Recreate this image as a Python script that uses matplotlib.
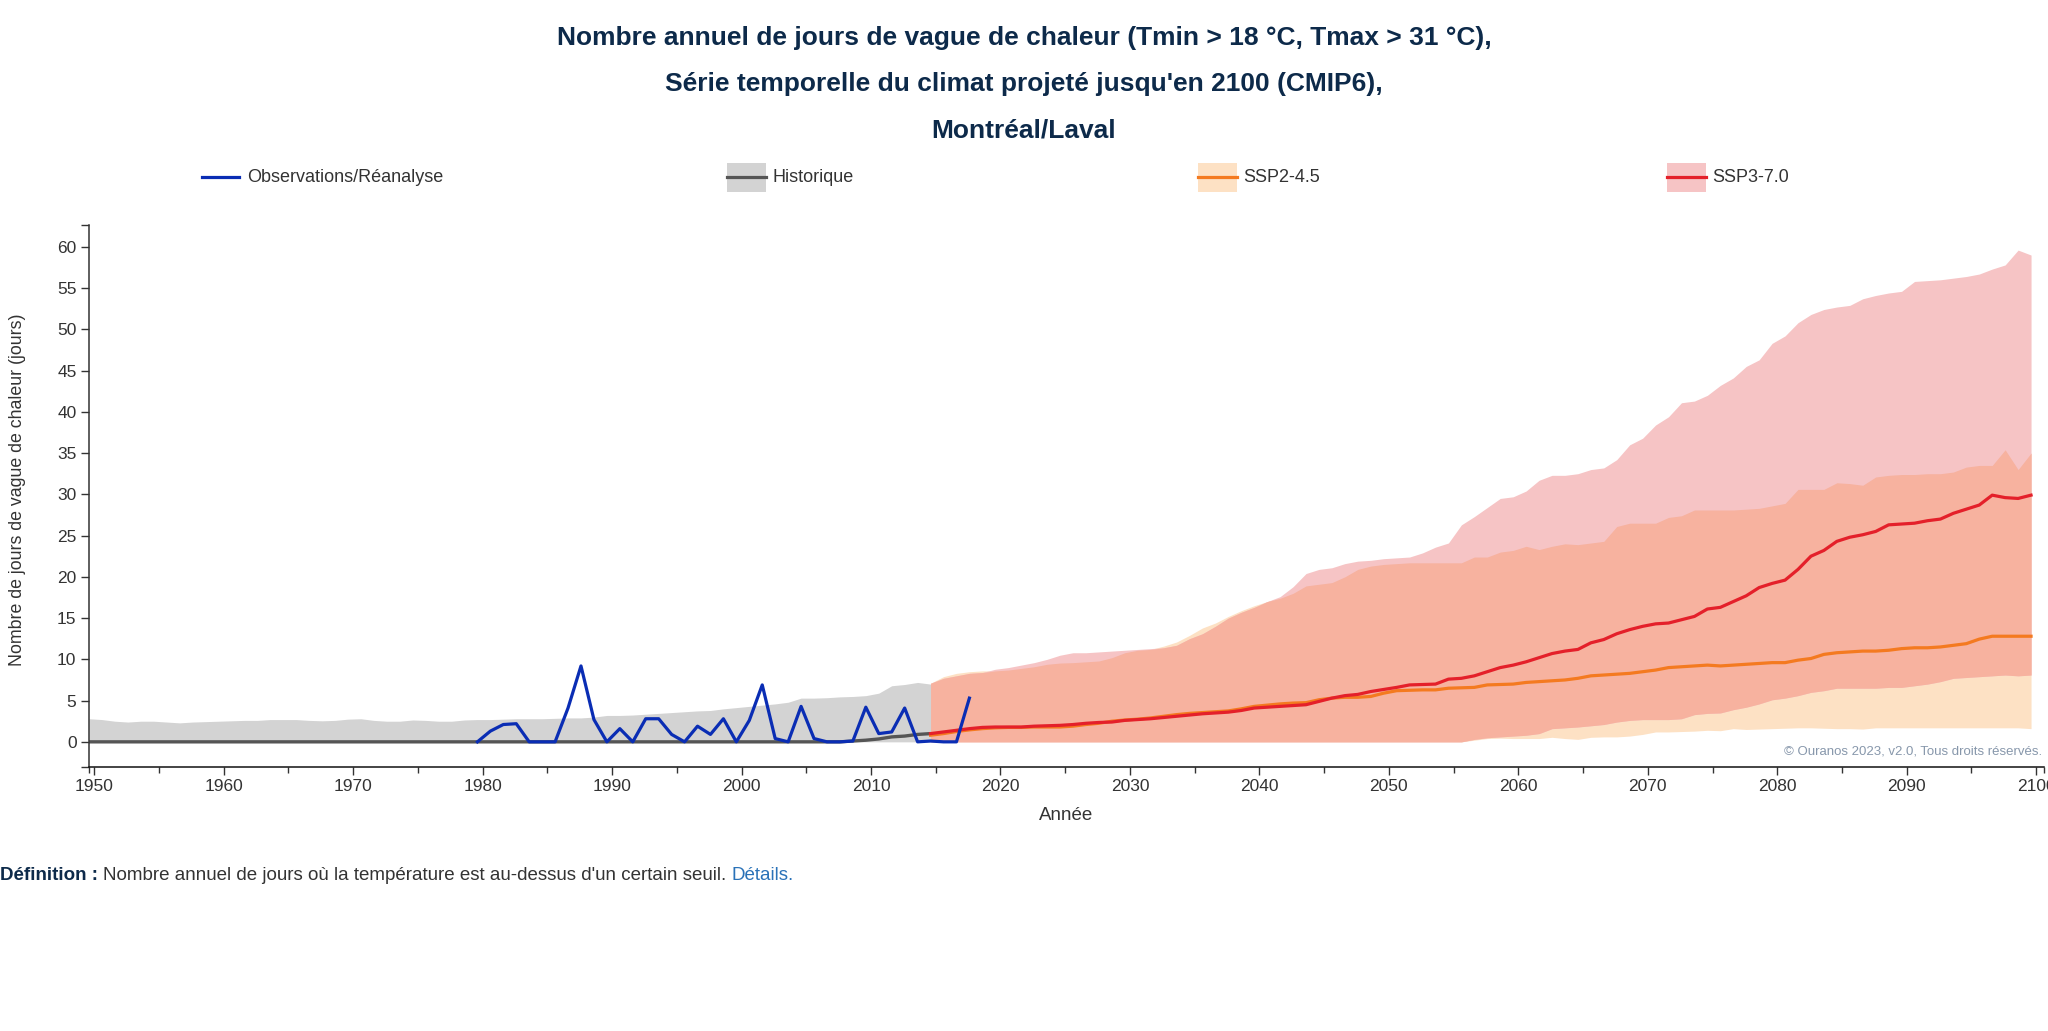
import numpy as np
import matplotlib
matplotlib.use('Agg')
import matplotlib.pyplot as plt
from matplotlib.patches import Rectangle
from matplotlib.lines import Line2D

plt.rcParams['font.family'] = ['Liberation Sans', 'DejaVu Sans']

# ---- data ----
hist_years = np.arange(1950, 2016)
hist_high = [2.8, 2.7, 2.5, 2.4, 2.5, 2.5, 2.4, 2.3, 2.4, 2.45,
             2.5, 2.55, 2.6, 2.6, 2.7, 2.7, 2.7, 2.6, 2.55, 2.6,
             2.75, 2.8, 2.6, 2.5, 2.5, 2.65, 2.6, 2.5, 2.5, 2.65,
             2.7, 2.7, 2.75, 2.8, 2.8, 2.8, 2.85, 2.9, 2.9, 3.0,
             3.2, 3.2, 3.25, 3.35, 3.45, 3.55, 3.65, 3.75, 3.8, 4.0,
             4.15, 4.3, 4.45, 4.6, 4.8, 5.3, 5.3, 5.35, 5.45, 5.5,
             5.6, 5.9, 6.8, 6.95, 7.2, 7.0]
hist_low = [0.0] * 66
hist_med = [0.0] * 59 + [0.1, 0.2, 0.35, 0.6, 0.7, 0.9, 1.0]

obs_years = np.arange(1980, 2019)
obs_vals = [0, 1.3, 2.1, 2.2, 0, 0, 0, 4.1, 9.2, 2.7,
            0, 1.6, 0, 2.8, 2.8, 0.9, 0, 1.9, 0.9, 2.8,
            0, 2.6, 6.9, 0.4, 0, 4.3, 0.4, 0, 0, 0.1,
            4.2, 1.0, 1.2, 4.1, 0, 0.1, 0, 0, 5.3]

proj_years = np.arange(2015, 2101)
ssp245_high = [7.1, 7.9, 8.3, 8.5, 8.6, 8.6, 8.7, 8.9, 9.1, 9.4,
               9.55, 9.6, 9.7, 9.8, 10.2, 10.8, 11.1, 11.2, 11.6, 12.1,
               12.9, 13.8, 14.4, 15.2, 15.9, 16.5, 17.0, 17.4, 18.0, 18.9,
               19.1, 19.3, 20.0, 20.9, 21.3, 21.5, 21.6, 21.7, 21.7, 21.7,
               21.7, 21.7, 22.4, 22.4, 23.0, 23.2, 23.7, 23.3, 23.7, 24.0,
               23.9, 24.1, 24.3, 26.1, 26.5, 26.5, 26.5, 27.2, 27.4, 28.1,
               28.1, 28.1, 28.1, 28.2, 28.3, 28.6, 28.9, 30.6, 30.6, 30.6,
               31.4, 31.3, 31.1, 32.1, 32.3, 32.4, 32.4, 32.5, 32.5, 32.7,
               33.3, 33.5, 33.5, 35.4, 33.0, 35.0]
ssp245_low = [0.0] * 42 + [0.2, 0.4, 0.45, 0.4, 0.4, 0.4, 0.55, 0.4,
                           0.3, 0.55, 0.6, 0.6, 0.7, 0.9, 1.2, 1.2, 1.25, 1.3,
                           1.4, 1.35, 1.6, 1.5, 1.55, 1.6, 1.65, 1.7, 1.7, 1.65,
                           1.6, 1.6, 1.55, 1.7, 1.7, 1.7, 1.7, 1.7, 1.7, 1.7,
                           1.7, 1.7, 1.7, 1.7, 1.7, 1.6]
ssp245_med = [0.8, 1.0, 1.25, 1.45, 1.6, 1.7, 1.75, 1.75, 1.8, 1.8,
              1.8, 1.9, 2.1, 2.25, 2.5, 2.65, 2.75, 2.9, 3.1, 3.3,
              3.45, 3.55, 3.65, 3.75, 4.0, 4.3, 4.45, 4.6, 4.7, 4.75,
              5.1, 5.3, 5.4, 5.4, 5.5, 5.9, 6.2, 6.25, 6.3, 6.3,
              6.5, 6.55, 6.6, 6.9, 6.95, 7.0, 7.2, 7.3, 7.4, 7.5,
              7.7, 8.0, 8.1, 8.2, 8.3, 8.5, 8.7, 9.0, 9.1, 9.2,
              9.3, 9.2, 9.3, 9.4, 9.5, 9.6, 9.6, 9.9, 10.1, 10.6,
              10.8, 10.9, 11.0, 11.0, 11.1, 11.3, 11.4, 11.4, 11.5, 11.7,
              11.9, 12.45, 12.8, 12.8, 12.8, 12.8]

ssp370_high = [7.1, 7.7, 8.0, 8.3, 8.4, 8.8, 9.0, 9.3, 9.6, 10.0,
               10.5, 10.8, 10.8, 10.9, 11.0, 11.1, 11.2, 11.3, 11.4, 11.7,
               12.5, 13.1, 14.0, 15.0, 15.7, 16.3, 17.0, 17.6, 18.8, 20.4,
               20.9, 21.1, 21.6, 21.9, 22.0, 22.2, 22.3, 22.4, 22.9, 23.6,
               24.1, 26.3, 27.3, 28.4, 29.5, 29.7, 30.4, 31.7, 32.3, 32.3,
               32.5, 33.0, 33.2, 34.2, 36.0, 36.8, 38.4, 39.4, 41.1, 41.3,
               42.0, 43.2, 44.1, 45.5, 46.3, 48.3, 49.2, 50.8, 51.8, 52.4,
               52.7, 52.9, 53.7, 54.1, 54.4, 54.6, 55.8, 55.9, 56.0, 56.2,
               56.4, 56.7, 57.3, 57.8, 59.6, 59.0]
ssp370_low = [0.0] * 42 + [0.3, 0.5, 0.6, 0.7, 0.8, 1.0, 1.6, 1.7,
                           1.8, 1.95, 2.1, 2.4, 2.6, 2.7, 2.7, 2.7, 2.8, 3.3,
                           3.45, 3.5, 3.9, 4.2, 4.6, 5.1, 5.3, 5.6, 6.0, 6.2,
                           6.5, 6.5, 6.5, 6.5, 6.6, 6.6, 6.8, 7.0, 7.3, 7.7,
                           7.8, 7.9, 8.0, 8.1, 8.0, 8.1]
ssp370_med = [1.0, 1.2, 1.4, 1.6, 1.75, 1.8, 1.8, 1.8, 1.9, 1.95,
              2.0, 2.1, 2.25, 2.35, 2.4, 2.6, 2.7, 2.8, 2.95, 3.1,
              3.25, 3.4, 3.5, 3.6, 3.8, 4.1, 4.2, 4.3, 4.4, 4.5,
              4.9, 5.3, 5.6, 5.75, 6.1, 6.35, 6.6, 6.9, 6.95, 7.0,
              7.6, 7.7, 8.0, 8.5, 9.0, 9.3, 9.7, 10.2, 10.7, 11.0,
              11.2, 12.0, 12.4, 13.1, 13.6, 14.0, 14.3, 14.4, 14.8, 15.2,
              16.1, 16.3, 17.0, 17.7, 18.7, 19.2, 19.6, 20.9, 22.5, 23.2,
              24.3, 24.8, 25.1, 25.5, 26.3, 26.4, 26.5, 26.8, 27.0, 27.7,
              28.2, 28.7, 29.9, 29.6, 29.5, 29.9]

tick_years = np.arange(1950, 2101, 10)

# ---- colours ----
navy = '#0d2a4a'
grey_band = '#d3d3d3'
grey_line = '#555555'
blue = '#0a2db4'
peach = '#fde1c4'
pink = '#f6c4c5'
salmon = '#f7b29f'
orange = '#f47a20'
red = '#e4202a'

W, H = 2048, 1031
fig = plt.figure(figsize=(20.48, 10.31), dpi=100)
ax = fig.add_axes([89 / W, 1 - 766.6 / H, (2044 - 89) / W, (766.6 - 224.6) / H])

# historical
ax.fill_between(hist_years, hist_low, hist_high, color=grey_band, lw=0)
ax.plot(hist_years, hist_med, color=grey_line, lw=2.4, solid_capstyle='butt')

# projections: both envelopes, then their overlap in a darker tint
lo245, hi245 = np.array(ssp245_low), np.array(ssp245_high)
lo370, hi370 = np.array(ssp370_low), np.array(ssp370_high)
ax.fill_between(proj_years, lo245, hi245, color=peach, lw=0)
ax.fill_between(proj_years, lo370, hi370, color=pink, lw=0)
ov_lo = np.maximum(lo245, lo370)
ov_hi = np.minimum(hi245, hi370)
ax.fill_between(proj_years, ov_lo, ov_hi, where=ov_hi > ov_lo, interpolate=True, color=salmon, lw=0)

ax.plot(proj_years, ssp245_med, color=orange, lw=2.3)
ax.plot(proj_years, ssp370_med, color=red, lw=2.3)
ax.plot(obs_years, obs_vals, color=blue, lw=2.3)

ax.set_xlim(1950, 2101)
ax.set_ylim(-3, 62.69)

# ticks (labels sit a little to the right of the data years, as in the reference)
ax.set_xticks(tick_years + 0.4)
ax.set_xticklabels([str(y) for y in tick_years])
ax.set_xticks(list(tick_years[:-1] + 5.4) + [1950, 2101], minor=True)
ax.set_yticks(np.arange(0, 61, 5))
ax.set_yticks([-3, 62.69], minor=True)
ax.tick_params(axis='both', which='major', length=6, width=1, color='#333333',
               labelsize=12.5, labelcolor='#333333', pad=3)
ax.tick_params(axis='x', which='minor', length=4, width=1, color='#333333')
ax.tick_params(axis='y', which='minor', length=6, width=1, color='#333333')

for s in ['top', 'right']:
    ax.spines[s].set_visible(False)
ax.spines['left'].set_color('#333333')
ax.spines['bottom'].set_color('#111111')
ax.spines['left'].set_linewidth(1.1)
ax.spines['bottom'].set_linewidth(1.1)

fig.text(18 / W, 1 - 490 / H, 'Nombre de jours de vague de chaleur (jours)', rotation=90,
         ha='center', va='center', fontsize=12.8, color='#333333')
fig.text(1066 / W, 1 - 816 / H, 'Année', ha='center', va='center', fontsize=13.5, color='#333333')

# title
titles = ['Nombre annuel de jours de vague de chaleur (Tmin > 18 °C, Tmax > 31 °C),',
          "Série temporelle du climat projeté jusqu'en 2100 (CMIP6),",
          'Montréal/Laval']
for t, yy in zip(titles, [38.5, 84, 130]):
    fig.text(0.5, 1 - yy / H, t, ha='center', va='center', fontsize=19,
             fontweight='bold', color=navy)

# legend (drawn by hand at the reference positions)
ly = 1 - 177 / H
fig.add_artist(Line2D([202 / W, 239 / W], [ly, ly], color=blue, lw=2.3))
fig.text(247 / W, ly, 'Observations/Réanalyse', va='center', fontsize=13, color='#333333')
legend_items = [(727, grey_band, grey_line, 'Historique'),
                (1198, peach, orange, 'SSP2-4.5'),
                (1667, pink, red, 'SSP3-7.0')]
for x0, fc, lc, lab in legend_items:
    fig.add_artist(Rectangle((x0 / W, ly - 14.5 / H), 39 / W, 29 / H, color=fc, lw=0))
    fig.add_artist(Line2D([x0 / W, (x0 + 39) / W], [ly, ly], color=lc, lw=2.3))
    fig.text((x0 + 45) / W, ly, lab, va='center', fontsize=13, color='#333333')

fig.text(2042 / W, 1 - 752 / H, '© Ouranos 2023, v2.0, Tous droits réservés.', ha='right',
         va='center', fontsize=9.5, color='#8797ab')

# definition line
fig.canvas.draw()
r = fig.canvas.get_renderer()
fy = 1 - 875 / H
t1 = fig.text(0, fy, 'Définition :', va='center', fontsize=13.5, fontweight='bold', color=navy)
bb = t1.get_window_extent(r)
t2 = fig.text((bb.x1 + 5) / W, fy, "Nombre annuel de jours où la température est au-dessus d'un certain seuil.",
              va='center', fontsize=13.5, color='#333333')
bb2 = t2.get_window_extent(r)
fig.text((bb2.x1 + 5) / W, fy, 'Détails.', va='center', fontsize=13.5, color='#2a72b8')

fig.savefig('out.png', dpi=100)
